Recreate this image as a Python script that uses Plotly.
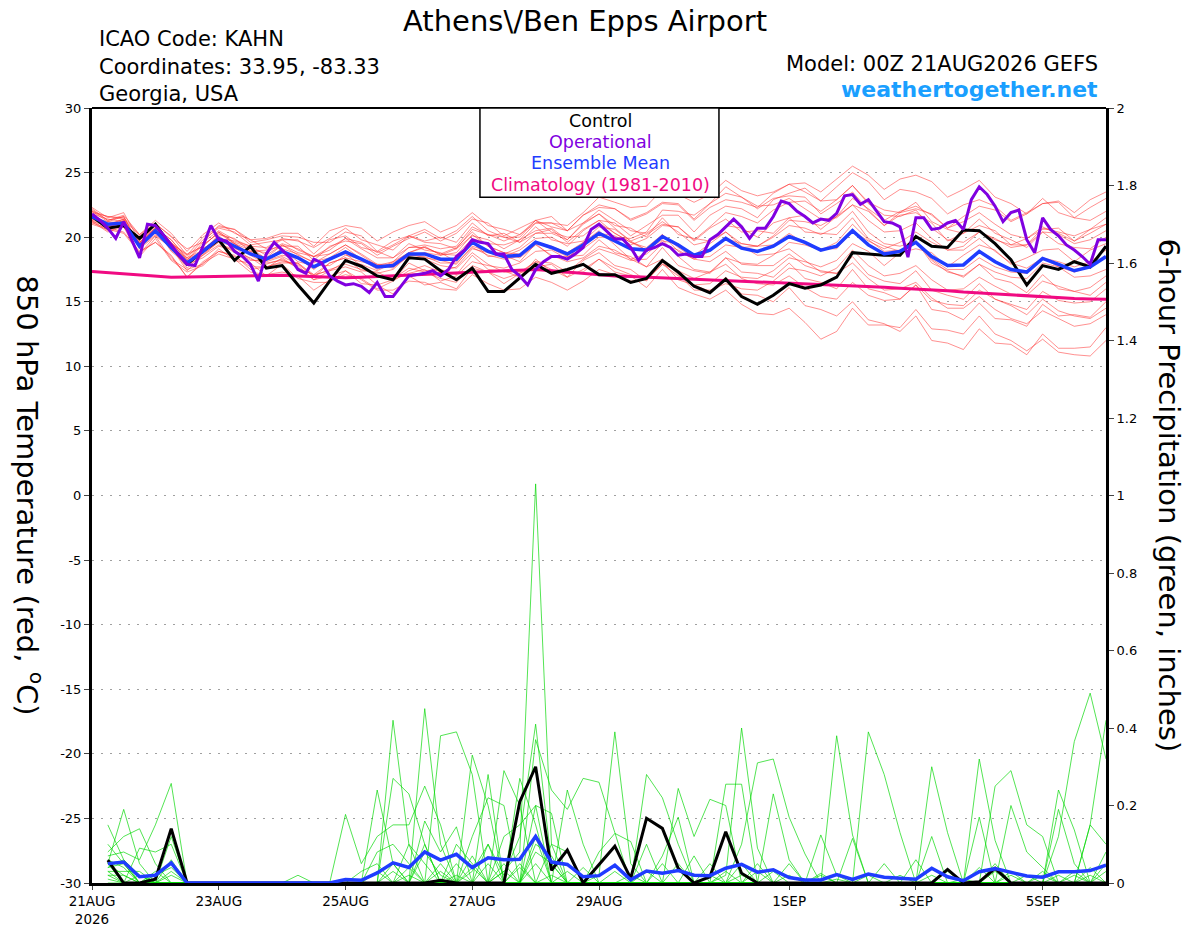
import pandas as pd
import plotly.graph_objects as go

# time axes: ensemble every 6h, operational every 3h, precip starts at +6h
times6 = pd.date_range("2026-08-21 00:00", periods=65, freq="6h")
times3 = pd.date_range("2026-08-21 00:00", periods=129, freq="3h")
ptimes = times6[1:]

tick_dates = ["2026-08-21", "2026-08-23", "2026-08-25", "2026-08-27",
              "2026-08-29", "2026-09-01", "2026-09-03", "2026-09-05"]
tick_labels = ["21AUG<br>2026", "23AUG", "25AUG", "27AUG", "29AUG", "1SEP", "3SEP", "5SEP"]
temp_ticks = [-30, -25, -20, -15, -10, -5, 0, 5, 10, 15, 20, 25, 30]
temp_tick_labels = ["-30", "-25", "-20", "-15", "-10", "-5", "0", "5", "10", "15", "20", "25", "30"]

# 850 hPa temperature (C)
control_t = [21.6, 20.7, 20.9, 19.9, 21.0, 19.3, 17.9, 18.9, 19.8, 18.2, 19.3, 17.6, 17.8, 16.3, 14.9, 16.6,
             18.2, 17.75, 17.0, 16.7, 18.4, 18.3, 17.4, 16.7, 17.6, 15.8, 15.8, 16.85, 17.9, 17.2, 17.5, 17.9,
             17.1, 17.1, 16.5, 16.8, 18.2, 17.3, 16.2, 15.7, 16.75, 15.4, 14.8, 15.5, 16.4, 16.05, 16.3, 16.9,
             18.8, 18.7, 18.6, 18.6, 20.05, 19.3, 19.2, 20.55, 20.5, 19.5, 18.25, 16.3, 17.8, 17.5, 18.1, 17.7,
             19.3]
mean_t = [21.6, 21.0, 21.1, 19.3, 20.5, 19.2, 18.0, 18.9, 19.9, 19.3, 18.7, 18.3, 18.9, 18.4, 17.7, 18.3,
          18.85, 18.3, 17.7, 17.8, 18.7, 18.7, 18.3, 18.3, 19.6, 18.9, 18.5, 18.6, 19.6, 19.2, 18.7, 19.4,
          20.3, 19.7, 19.1, 19.0, 20.05, 19.4, 18.6, 19.0, 19.9, 19.15, 18.9, 19.3, 20.05, 19.6, 19.0, 19.3,
          20.5, 19.4, 18.7, 18.9, 19.6, 18.5, 17.8, 17.85, 18.9, 18.1, 17.5, 17.3, 18.35, 17.9, 17.4, 17.7,
          18.5]
clim_t = [17.35, 17.25, 17.15, 17.05, 16.95, 16.9, 16.92, 16.95, 16.98, 17.0, 17.03, 17.05, 17.05, 17.0, 16.95, 16.9,
          16.85, 16.9, 16.95, 17.0, 17.05, 17.1, 17.15, 17.2, 17.25, 17.3, 17.38, 17.45, 17.5, 17.4, 17.3, 17.15,
          17.05, 17.0, 16.95, 16.9, 16.85, 16.8, 16.75, 16.7, 16.67, 16.6, 16.55, 16.5, 16.45, 16.4, 16.35, 16.3,
          16.25, 16.2, 16.12, 16.05, 16.0, 15.92, 15.85, 15.75, 15.68, 15.6, 15.5, 15.42, 15.35, 15.3, 15.25, 15.22,
          15.2]
oper_t = [21.8, 21.3, 20.7, 19.9, 21.2, 19.8, 18.4, 21.0, 20.9, 20.2, 19.4, 18.6, 17.9, 17.8, 19.3, 20.9,
          19.8, 19.7, 18.9, 18.5, 17.9, 16.6, 18.7, 19.6, 19.0, 18.4, 17.5, 17.2, 18.3, 18.0, 17.0, 16.6,
          16.3, 16.4, 16.2, 15.7, 16.5, 15.4, 15.4, 16.2, 17.0, 17.1, 17.2, 17.4, 17.0, 17.5, 18.5, 19.0,
          19.8, 19.6, 19.5, 18.7, 18.7, 17.5, 17.0, 16.3, 17.5, 18.1, 18.5, 18.5, 18.3, 18.7, 19.2, 20.6,
          21.0, 20.45, 19.85, 19.85, 19.2, 18.2, 19.0, 19.2, 19.5, 19.2, 18.6, 18.7, 18.5, 18.5, 19.8, 20.2,
          20.8, 21.4, 20.8, 19.9, 20.7, 20.7, 21.6, 22.8, 22.6, 22.0, 21.6, 21.1, 21.4, 21.3, 21.85, 23.2,
          23.3, 22.55, 22.9, 22.0, 21.2, 21.1, 20.8, 18.45, 21.5, 21.5, 20.6, 20.7, 21.1, 21.3, 20.6, 22.9,
          23.9, 23.3, 22.4, 21.2, 21.9, 22.1, 19.8, 18.8, 21.5, 20.6, 20.1, 19.4, 19.0, 18.5, 17.9, 19.8,
          19.8]

mem01 = [22.1, 21.3, 21.7, 20.2, 21.1, 20.0, 19.1, 19.6, 20.9, 20.6, 19.6, 19.8, 20.1, 20.0, 19.6, 19.6, 20.4,
         20.1, 18.9, 19.7, 20.1, 19.7, 20.0, 19.6, 21.1, 20.1, 20.3, 19.6, 20.3, 20.6, 19.6, 20.6, 21.3,
         21.1, 20.1, 20.9, 21.7, 21.7, 20.4, 21.7, 22.4, 22.2, 21.5, 22.9, 23.4, 23.8, 22.8, 23.9, 25.0,
         24.3, 22.9, 23.7, 23.5, 23.0, 21.8, 22.5, 22.9, 22.4, 21.3, 21.9, 22.6, 22.7, 21.5, 22.3, 23.0]
mem02 = [21.3, 20.5, 20.9, 18.7, 20.1, 18.3, 17.5, 17.9, 19.1, 18.2, 18.0, 17.0, 17.9, 16.8, 16.5, 16.5, 17.4,
         16.4, 16.3, 15.6, 17.0, 16.3, 16.5, 16.0, 17.6, 17.3, 16.4, 17.2, 17.7, 17.9, 16.9, 18.2, 18.8,
         17.8, 17.5, 16.6, 18.1, 16.7, 16.3, 15.8, 16.9, 15.6, 15.5, 15.0, 16.1, 14.7, 14.4, 13.9, 15.0,
         13.6, 13.3, 12.7, 13.9, 12.0, 11.8, 11.3, 12.9, 11.8, 11.7, 10.9, 12.5, 11.4, 11.4, 11.5, 13.0]
mem03 = [21.8, 21.4, 21.2, 19.8, 20.7, 19.8, 18.3, 18.9, 20.2, 19.9, 18.9, 19.0, 19.3, 19.3, 18.2, 19.3, 19.7,
         19.5, 18.6, 19.3, 19.9, 20.4, 19.7, 20.3, 21.4, 21.1, 20.1, 20.7, 21.3, 21.6, 20.5, 21.7, 22.3,
         22.2, 21.4, 21.9, 22.7, 22.6, 21.4, 22.6, 23.4, 23.1, 22.2, 23.0, 23.2, 23.1, 21.8, 22.6, 23.5,
         22.1, 20.9, 21.7, 21.9, 21.1, 19.7, 20.3, 20.9, 20.5, 19.4, 19.9, 20.6, 20.7, 19.7, 20.6, 21.0]
mem04 = [21.1, 20.7, 20.4, 18.9, 19.6, 18.6, 16.9, 18.1, 18.9, 18.6, 17.5, 17.7, 18.0, 18.0, 16.9, 18.0, 18.4,
         17.4, 17.3, 16.7, 18.0, 17.4, 17.5, 17.1, 18.6, 17.5, 17.4, 16.9, 18.3, 17.3, 17.2, 17.3, 18.3,
         17.3, 17.0, 16.1, 17.5, 16.1, 15.6, 15.2, 15.9, 14.8, 14.1, 14.0, 14.5, 13.4, 12.1, 12.7, 14.5,
         13.2, 13.2, 13.0, 14.4, 12.9, 12.8, 12.5, 13.9, 12.5, 12.0, 11.2, 12.1, 11.1, 10.9, 10.8, 12.0]
mem05 = [22.3, 21.5, 21.9, 19.7, 21.1, 19.5, 18.7, 19.3, 20.4, 19.6, 19.2, 18.3, 19.1, 18.1, 17.8, 17.8, 18.6,
         18.3, 17.5, 18.1, 18.8, 19.3, 18.6, 19.1, 20.1, 19.8, 19.1, 19.8, 20.5, 20.7, 19.8, 21.1, 21.8,
         20.9, 20.7, 20.0, 21.5, 20.2, 19.9, 19.7, 20.9, 20.7, 20.0, 21.1, 21.5, 21.7, 20.6, 21.6, 22.5,
         22.0, 20.9, 21.9, 22.2, 21.8, 20.7, 21.6, 22.4, 22.1, 21.2, 21.8, 22.6, 22.8, 21.9, 22.9, 23.5]
mem06 = [21.4, 21.1, 21.0, 19.6, 20.7, 19.8, 18.4, 19.8, 20.7, 20.4, 19.4, 19.6, 19.8, 19.8, 18.7, 19.8, 20.1,
         19.2, 18.9, 18.4, 19.5, 19.0, 18.8, 18.1, 19.6, 18.5, 18.6, 18.1, 19.5, 18.5, 18.5, 18.6, 19.8,
         18.8, 18.5, 17.7, 19.2, 17.8, 17.4, 17.2, 18.4, 17.3, 17.2, 16.9, 18.0, 16.8, 16.5, 16.0, 17.5,
         16.0, 15.7, 15.2, 16.3, 14.4, 14.2, 13.6, 14.9, 13.7, 13.6, 13.1, 14.8, 13.9, 14.0, 13.8, 15.0]
mem07 = [21.6, 20.7, 21.3, 19.1, 20.1, 19.2, 17.4, 18.6, 19.4, 19.1, 18.9, 18.4, 19.4, 18.8, 18.5, 19.0, 19.9,
         19.6, 18.8, 19.4, 20.1, 20.6, 19.9, 20.5, 21.6, 20.5, 20.0, 19.6, 20.8, 19.8, 19.5, 19.7, 20.8,
         20.6, 19.7, 20.2, 21.0, 20.8, 19.7, 20.7, 21.4, 20.4, 20.5, 20.3, 21.5, 20.4, 20.3, 20.2, 21.5,
         19.9, 19.3, 18.9, 19.7, 18.0, 17.4, 16.9, 17.9, 16.8, 16.5, 15.7, 17.1, 16.0, 15.8, 15.5, 16.5]
mem08 = [22.0, 21.2, 21.6, 19.4, 20.8, 19.2, 18.4, 19.0, 20.1, 19.2, 18.3, 18.0, 18.2, 17.8, 16.7, 17.4, 17.7,
         17.3, 16.3, 16.7, 17.2, 17.5, 16.6, 17.0, 18.1, 17.8, 17.6, 18.0, 18.9, 19.0, 18.3, 19.6, 20.3,
         20.1, 19.4, 19.9, 20.9, 20.8, 19.8, 20.8, 21.9, 21.6, 21.1, 22.1, 22.7, 22.8, 22.0, 22.9, 24.0,
         22.7, 22.1, 21.9, 22.7, 21.2, 20.6, 20.3, 21.4, 20.3, 19.8, 19.2, 20.4, 19.5, 19.2, 19.1, 20.0]
mem09 = [21.0, 20.6, 20.3, 18.8, 19.6, 18.5, 16.9, 18.0, 18.7, 18.3, 17.3, 17.1, 17.3, 17.0, 15.9, 16.7, 17.1,
         16.8, 16.0, 16.6, 17.4, 17.8, 17.3, 17.7, 19.1, 18.8, 18.5, 19.0, 19.9, 20.0, 19.3, 20.5, 21.3,
         20.3, 19.6, 19.0, 20.2, 18.9, 18.3, 18.1, 18.9, 17.9, 17.8, 17.8, 18.7, 17.8, 17.4, 17.2, 18.5,
         17.1, 16.6, 16.4, 17.4, 15.9, 15.5, 15.2, 16.4, 15.2, 14.7, 14.0, 15.2, 14.3, 13.9, 13.7, 14.5]
mem10 = [21.9, 21.6, 21.5, 20.2, 21.3, 20.3, 18.9, 20.2, 21.1, 20.3, 19.8, 19.1, 19.8, 19.0, 18.5, 18.7, 19.4,
         18.6, 17.8, 17.7, 18.5, 18.3, 17.8, 17.6, 18.8, 17.9, 17.3, 17.3, 18.1, 17.5, 16.9, 17.5, 18.3,
         17.6, 17.1, 16.7, 17.9, 17.0, 16.3, 16.4, 17.4, 16.9, 16.8, 17.4, 18.4, 18.1, 17.7, 18.2, 19.5,
         18.9, 17.8, 18.8, 19.1, 18.8, 17.7, 18.6, 19.4, 19.0, 17.9, 18.4, 19.0, 19.1, 18.1, 19.0, 19.5]
mem11 = [21.5, 21.2, 21.1, 19.6, 20.3, 19.3, 17.9, 19.1, 19.9, 19.7, 19.3, 19.2, 19.9, 19.7, 19.2, 19.9, 20.7,
         19.8, 19.4, 19.0, 20.1, 19.6, 19.5, 19.1, 20.6, 20.2, 19.7, 20.2, 21.1, 21.1, 20.5, 21.7, 22.5,
         22.2, 21.3, 21.8, 22.6, 22.5, 21.3, 22.3, 22.9, 22.7, 22.3, 23.4, 24.1, 24.2, 23.5, 24.5, 25.5,
         24.8, 23.7, 24.5, 24.8, 24.3, 23.1, 23.7, 24.4, 23.1, 22.6, 21.8, 23.0, 21.9, 21.5, 21.3, 22.0]
mem12 = [21.7, 20.8, 21.3, 19.2, 20.2, 19.2, 17.6, 18.7, 19.6, 18.8, 18.4, 17.6, 18.4, 17.6, 17.1, 17.4, 18.1,
         17.9, 17.4, 18.0, 18.8, 19.2, 18.7, 19.2, 20.4, 19.3, 18.8, 18.4, 19.4, 18.6, 18.1, 18.4, 19.3,
         19.0, 18.3, 18.7, 19.7, 19.5, 18.6, 19.5, 20.4, 19.5, 19.3, 19.4, 20.3, 19.5, 19.1, 19.1, 20.5,
         19.7, 19.1, 19.6, 20.4, 19.6, 19.0, 19.3, 20.4, 19.9, 19.2, 19.4, 20.4, 20.3, 19.7, 20.3, 21.0]
mem13 = [21.2, 20.9, 20.8, 19.5, 20.5, 19.6, 18.2, 19.6, 20.5, 19.8, 19.3, 18.6, 19.4, 18.6, 18.1, 18.4, 19.2,
         18.3, 17.9, 17.6, 18.7, 18.4, 18.2, 17.9, 19.3, 18.9, 18.7, 19.2, 20.3, 20.3, 19.8, 21.0, 21.8,
         20.7, 19.7, 19.0, 19.8, 18.5, 17.5, 17.3, 17.9, 16.8, 16.4, 16.3, 17.0, 16.1, 15.4, 15.2, 16.5,
         15.5, 15.1, 15.2, 16.3, 15.1, 14.8, 14.7, 15.9, 15.2, 14.8, 14.4, 15.8, 15.1, 14.9, 15.0, 16.0]
mem14 = [22.2, 21.3, 21.6, 19.3, 20.7, 18.9, 17.9, 18.4, 19.3, 19.0, 18.2, 18.2, 18.6, 18.4, 17.5, 18.4, 18.7,
         17.8, 17.0, 16.8, 17.6, 17.3, 16.8, 16.5, 17.8, 17.3, 16.8, 17.2, 18.1, 18.0, 17.3, 18.3, 19.1,
         18.7, 18.2, 18.3, 19.5, 19.0, 18.3, 18.9, 19.9, 19.5, 19.3, 20.0, 20.9, 20.7, 20.2, 20.8, 22.0,
         20.4, 19.5, 19.3, 19.7, 18.2, 17.3, 17.0, 17.9, 17.3, 16.9, 16.8, 18.0, 17.7, 17.3, 17.7, 18.5]
mem15 = [21.3, 21.0, 20.9, 19.6, 20.6, 19.6, 18.2, 19.4, 20.3, 19.5, 18.7, 18.1, 18.5, 17.9, 17.0, 17.5, 17.9,
         17.5, 17.2, 17.5, 18.6, 18.8, 18.6, 18.8, 20.2, 19.3, 18.8, 18.7, 19.6, 19.1, 18.5, 19.1, 20.0,
         20.0, 19.9, 20.4, 22.1, 22.0, 21.7, 22.6, 23.9, 23.1, 22.4, 22.5, 23.0, 22.2, 21.4, 21.5, 22.5,
         21.3, 20.4, 20.5, 21.1, 19.9, 19.0, 19.0, 19.9, 18.9, 18.0, 17.6, 18.4, 17.7, 16.9, 17.0, 17.5]
mem16 = [21.8, 21.0, 21.4, 19.2, 20.6, 19.0, 18.0, 18.6, 19.7, 19.2, 18.8, 18.3, 19.1, 18.7, 18.0, 18.7, 19.4,
         18.7, 17.9, 17.9, 18.6, 18.5, 18.0, 18.0, 19.2, 18.6, 18.3, 18.5, 19.6, 19.3, 18.8, 19.6, 20.5,
         19.4, 18.3, 17.7, 18.3, 17.1, 15.9, 15.9, 16.4, 16.0, 15.9, 16.6, 17.6, 17.4, 17.0, 17.6, 19.0,
         17.8, 17.0, 17.2, 17.8, 16.7, 15.9, 16.0, 16.9, 16.2, 15.6, 15.5, 16.6, 16.2, 15.8, 16.1, 17.0]
mem17 = [22.0, 21.6, 21.4, 20.1, 21.0, 20.1, 18.6, 20.0, 20.8, 20.6, 19.8, 19.9, 20.3, 20.3, 19.3, 20.5, 20.9,
         20.7, 19.7, 20.4, 20.9, 21.2, 20.4, 20.9, 21.9, 20.9, 20.6, 20.2, 21.3, 20.4, 20.0, 20.1, 21.1,
         20.3, 19.6, 19.2, 20.2, 19.2, 18.4, 18.5, 19.4, 19.2, 19.3, 20.1, 21.3, 21.2, 20.9, 21.6, 23.0,
         22.2, 21.3, 22.0, 22.4, 21.7, 20.7, 21.2, 21.9, 21.0, 20.2, 19.9, 20.8, 20.2, 19.5, 19.8, 20.5]
mem18 = [21.2, 20.4, 20.8, 18.5, 19.9, 18.2, 17.3, 17.8, 18.9, 18.5, 17.7, 17.7, 18.1, 18.0, 17.1, 18.0, 18.4,
         18.1, 17.8, 18.1, 19.2, 19.4, 19.1, 19.3, 20.8, 20.2, 20.0, 20.0, 21.3, 20.8, 20.5, 21.1, 22.1,
         21.3, 20.5, 20.3, 21.2, 20.4, 19.4, 19.7, 20.4, 19.3, 18.6, 18.7, 19.1, 18.2, 17.3, 17.2, 18.0,
         16.8, 15.9, 16.0, 16.5, 15.3, 14.5, 14.5, 15.4, 14.4, 13.7, 13.3, 14.3, 13.7, 13.1, 13.3, 14.0]
mem19 = [21.7, 20.9, 21.4, 19.5, 21.0, 19.5, 18.6, 19.3, 20.4, 19.5, 18.6, 17.9, 18.3, 17.6, 16.7, 17.0, 17.4,
         16.7, 15.9, 15.9, 16.6, 16.5, 16.0, 15.9, 17.1, 16.4, 15.9, 16.0, 16.9, 16.5, 15.9, 16.6, 17.5,
         17.1, 16.6, 16.7, 17.9, 17.4, 16.8, 17.3, 18.4, 18.0, 17.9, 18.6, 19.6, 19.4, 19.0, 19.6, 21.0,
         19.8, 18.9, 19.0, 19.6, 18.3, 17.5, 17.5, 18.4, 17.7, 17.3, 17.2, 18.4, 18.1, 17.7, 18.1, 19.0]
mem20 = [21.4, 21.0, 20.8, 19.4, 20.4, 19.4, 18.0, 19.1, 19.9, 19.5, 19.0, 18.8, 19.5, 19.1, 18.5, 19.2, 19.9,
         19.1, 18.4, 18.4, 19.2, 19.2, 18.7, 18.6, 19.9, 19.5, 19.4, 19.8, 21.1, 21.1, 20.9, 21.9, 23.1,
         22.7, 22.3, 22.4, 23.7, 23.3, 22.7, 23.3, 24.4, 23.6, 23.2, 23.5, 24.1, 23.5, 22.8, 22.9, 24.0,
         22.6, 21.7, 21.6, 22.1, 20.7, 19.8, 19.6, 20.4, 19.8, 19.4, 19.4, 20.7, 20.4, 20.1, 20.6, 21.5]

# 6-hour precipitation (inches), from +6h
control_p = [0.059, 0, 0, 0.01, 0.14, 0, 0, 0, 0, 0, 0, 0, 0, 0, 0, 0,
             0, 0, 0, 0, 0, 0.007, 0, 0, 0, 0, 0.21, 0.30, 0.033, 0.085, 0, 0.047,
             0.095, 0.012, 0.167, 0.141, 0.038, 0, 0.016, 0.132, 0.025, 0, 0, 0, 0, 0, 0, 0,
             0, 0, 0, 0, 0, 0.035, 0, 0.003, 0.038, 0, 0, 0, 0, 0, 0, 0]
mean_p = [0.05, 0.054, 0.016, 0.02, 0.052, 0, 0, 0, 0, 0, 0, 0, 0.002, 0, 0, 0.009,
          0.007, 0.026, 0.052, 0.04, 0.08, 0.059, 0.074, 0.04, 0.065, 0.06, 0.061, 0.12, 0.054, 0.048, 0.016, 0.019,
          0.046, 0.008, 0.031, 0.025, 0.032, 0.02, 0.019, 0.038, 0.048, 0.028, 0.034, 0.014, 0.008, 0.008, 0.022, 0.009,
          0.023, 0.015, 0.013, 0.01, 0.038, 0.016, 0.006, 0.029, 0.037, 0.027, 0.018, 0.015, 0.029, 0.029, 0.032, 0.046]

pcp01 = [0.15, 0.06, 0.02, 0, 0, 0, 0, 0, 0, 0, 0, 0, 0, 0, 0, 0,
         0, 0, 0.42, 0.1, 0, 0, 0.02, 0, 0, 0.03, 0.08, 1.03, 0.1, 0, 0, 0.02,
         0.39, 0.05, 0, 0, 0, 0, 0, 0.02, 0.4, 0.09, 0, 0, 0, 0, 0, 0,
         0.39, 0.28, 0.13, 0, 0, 0, 0, 0, 0, 0, 0, 0, 0.12, 0.365, 0.49, 0.32]
pcp02 = [0.05, 0.19, 0.05, 0, 0, 0, 0, 0, 0, 0, 0, 0, 0, 0, 0, 0,
         0, 0.24, 0.05, 0, 0.45, 0.1, 0, 0.03, 0.1, 0.02, 0.12, 0.41, 0.05, 0, 0, 0,
         0, 0, 0.28, 0.22, 0.1, 0, 0, 0, 0.1, 0.31, 0.32, 0.17, 0.075, 0, 0, 0,
         0, 0, 0, 0, 0.3, 0.13, 0, 0, 0.25, 0.29, 0.15, 0.12, 0, 0, 0.15, 0.42]
pcp03 = [0.08, 0.12, 0.14, 0.05, 0, 0, 0, 0, 0, 0, 0, 0, 0, 0, 0, 0,
         0, 0, 0.27, 0.23, 0.1, 0, 0, 0.33, 0.2, 0, 0, 0.37, 0.24, 0.19, 0.27, 0.26,
         0.13, 0, 0, 0, 0, 0, 0, 0.255, 0.255, 0, 0, 0, 0, 0, 0.38, 0.124,
         0, 0, 0, 0, 0, 0, 0, 0.32, 0.11, 0, 0, 0, 0, 0, 0, 0]
pcp04 = [0.07, 0.08, 0.06, 0.15, 0.257, 0, 0, 0, 0, 0, 0, 0, 0, 0, 0, 0,
         0, 0, 0, 0, 0, 0.38, 0.39, 0.28, 0, 0.29, 0.2, 0, 0, 0, 0, 0,
         0, 0, 0, 0, 0.244, 0.12, 0.216, 0.2, 0, 0, 0, 0, 0, 0, 0, 0,
         0, 0, 0, 0, 0, 0, 0, 0, 0, 0, 0, 0, 0.24, 0.137, 0, 0]
pcp05 = [0.06, 0.04, 0, 0, 0.12, 0, 0, 0, 0, 0, 0, 0, 0, 0, 0, 0.177,
         0.05, 0.12, 0.15, 0.15, 0.25, 0.15, 0, 0, 0.28, 0, 0, 0.2, 0.18, 0, 0, 0,
         0, 0, 0, 0, 0, 0, 0, 0, 0, 0, 0.23, 0.06, 0, 0.124, 0.02, 0,
         0, 0, 0, 0, 0.12, 0, 0, 0, 0, 0.2, 0.08, 0.04, 0, 0, 0, 0]
pcp06 = [0.05, 0, 0.09, 0.08, 0.1, 0, 0, 0, 0, 0, 0, 0, 0, 0, 0, 0,
         0, 0, 0, 0, 0.16, 0.08, 0.145, 0, 0, 0, 0.27, 0.15, 0, 0.24, 0.1, 0,
         0, 0, 0, 0.07, 0.17, 0, 0, 0, 0.05, 0, 0, 0, 0, 0, 0, 0,
         0, 0.05, 0, 0, 0, 0, 0, 0.17, 0, 0, 0, 0, 0.19, 0.05, 0, 0]
pcp07 = [0.04, 0.05, 0, 0, 0.06, 0, 0, 0, 0, 0, 0, 0, 0, 0, 0, 0,
         0, 0.08, 0.1, 0.05, 0, 0, 0, 0.12, 0.22, 0.2, 0, 0, 0.1, 0.08, 0, 0,
         0, 0, 0.1, 0, 0, 0, 0, 0, 0, 0.05, 0, 0, 0, 0, 0, 0,
         0, 0, 0, 0, 0, 0, 0, 0, 0, 0, 0, 0, 0, 0, 0.15, 0.1]
pcp08 = [0.03, 0.03, 0.03, 0, 0, 0, 0, 0, 0, 0, 0, 0, 0.02, 0, 0, 0,
         0, 0, 0, 0, 0.1, 0, 0, 0, 0, 0.12, 0.15, 0.2, 0, 0, 0, 0.08,
         0.128, 0.107, 0, 0, 0, 0, 0.05, 0, 0, 0, 0, 0.05, 0, 0, 0, 0,
         0, 0, 0, 0, 0, 0.03, 0, 0, 0, 0, 0, 0, 0, 0, 0, 0.08]
pcp09 = [0.1, 0.05, 0, 0.02, 0.04, 0, 0, 0, 0, 0, 0, 0, 0, 0, 0, 0,
         0, 0, 0, 0.1, 0.05, 0, 0.1, 0.05, 0, 0, 0, 0.12, 0, 0, 0, 0,
         0, 0, 0, 0, 0, 0.07, 0, 0, 0, 0, 0, 0, 0, 0.025, 0, 0,
         0, 0, 0, 0.06, 0, 0, 0, 0, 0.05, 0, 0, 0.03, 0, 0, 0, 0]
pcp10 = [0.03, 0, 0.02, 0, 0, 0, 0, 0, 0, 0, 0, 0, 0, 0, 0, 0,
         0.03, 0.05, 0, 0, 0, 0.05, 0, 0, 0.1, 0, 0, 0.08, 0.05, 0, 0, 0,
         0, 0, 0, 0.05, 0, 0, 0, 0, 0, 0, 0, 0.02, 0, 0, 0, 0,
         0, 0, 0, 0, 0, 0, 0, 0, 0, 0, 0.02, 0, 0, 0.03, 0, 0]
pcp11 = [0.02, 0.02, 0, 0, 0.03, 0, 0, 0, 0, 0, 0, 0, 0, 0, 0, 0,
         0, 0, 0.05, 0, 0, 0, 0.05, 0, 0, 0, 0.05, 0, 0, 0.03, 0, 0,
         0, 0.02, 0, 0, 0, 0, 0, 0.03, 0, 0, 0, 0, 0, 0, 0, 0.115,
         0, 0, 0, 0, 0, 0, 0.01, 0, 0, 0, 0, 0, 0, 0.02, 0, 0.03]
pcp12 = [0.01, 0, 0, 0.03, 0, 0, 0, 0, 0, 0, 0, 0, 0, 0, 0, 0,
         0, 0, 0, 0.02, 0, 0, 0, 0.04, 0, 0.03, 0, 0.1, 0.07, 0, 0, 0,
         0, 0, 0.03, 0, 0, 0, 0, 0, 0, 0, 0, 0, 0, 0.02, 0, 0,
         0, 0, 0, 0, 0.02, 0, 0, 0, 0, 0.03, 0, 0, 0, 0, 0.02, 0]
pcp13 = [0.05, 0.02, 0, 0, 0, 0, 0, 0, 0, 0, 0, 0, 0, 0, 0, 0,
         0, 0.03, 0, 0, 0.08, 0.02, 0, 0, 0.05, 0, 0, 0, 0, 0, 0.04, 0,
         0, 0, 0, 0, 0.05, 0, 0, 0, 0, 0, 0.03, 0, 0, 0, 0, 0,
         0, 0, 0.02, 0, 0, 0, 0, 0, 0.03, 0, 0, 0, 0, 0, 0, 0.05]
pcp14 = [0.02, 0, 0, 0, 0, 0, 0, 0, 0, 0, 0, 0, 0, 0, 0, 0,
         0, 0, 0.03, 0, 0, 0, 0, 0.07, 0, 0, 0, 0.05, 0, 0, 0, 0,
         0.03, 0, 0, 0, 0, 0, 0, 0, 0.02, 0, 0, 0, 0, 0, 0, 0,
         0.02, 0, 0, 0, 0, 0, 0, 0.04, 0, 0, 0, 0, 0.02, 0, 0, 0]
pcp15 = [0, 0, 0, 0, 0.02, 0, 0, 0, 0, 0, 0, 0, 0, 0, 0, 0,
         0, 0, 0, 0, 0, 0.03, 0, 0, 0, 0, 0.04, 0, 0, 0, 0, 0,
         0, 0, 0, 0, 0, 0, 0.02, 0, 0, 0, 0, 0, 0, 0, 0.01, 0,
         0, 0, 0, 0, 0, 0, 0, 0, 0, 0, 0, 0.02, 0, 0, 0, 0]
pcp16 = [0.04, 0.06, 0, 0, 0, 0, 0, 0, 0, 0, 0, 0, 0, 0, 0, 0,
         0, 0, 0, 0.04, 0, 0, 0, 0, 0, 0.05, 0, 0, 0.02, 0, 0, 0,
         0, 0, 0, 0, 0, 0, 0, 0, 0, 0.03, 0, 0, 0, 0, 0, 0,
         0, 0, 0, 0, 0, 0, 0, 0, 0, 0.02, 0, 0, 0, 0, 0.04, 0]

temp_members = [mem01, mem02, mem03, mem04, mem05, mem06, mem07, mem08, mem09, mem10,
                mem11, mem12, mem13, mem14, mem15, mem16, mem17, mem18, mem19, mem20]
pcp_members = [pcp01, pcp02, pcp03, pcp04, pcp05, pcp06, pcp07, pcp08,
               pcp09, pcp10, pcp11, pcp12, pcp13, pcp14, pcp15, pcp16]

FONT = "DejaVu Sans, Verdana, sans-serif"
fig = go.Figure()

for m in temp_members:
    fig.add_trace(go.Scatter(x=times6, y=m, mode="lines", yaxis="y",
                             line=dict(color="rgba(255,40,40,0.65)", width=0.8),
                             hoverinfo="skip", showlegend=False))
for p in pcp_members:
    fig.add_trace(go.Scatter(x=ptimes, y=p, mode="lines", yaxis="y2",
                             line=dict(color="rgba(0,215,0,0.85)", width=0.8),
                             hoverinfo="skip", showlegend=False))

# precip control and mean
fig.add_trace(go.Scatter(x=ptimes, y=control_p, mode="lines", yaxis="y2",
                         line=dict(color="black", width=3), showlegend=False))
fig.add_trace(go.Scatter(x=ptimes, y=mean_p, mode="lines", yaxis="y2",
                         line=dict(color="#1f3cff", width=3.5), showlegend=False))

# temperature main lines
fig.add_trace(go.Scatter(x=times6, y=clim_t, mode="lines", yaxis="y",
                         line=dict(color="#f00a82", width=3), showlegend=False))
fig.add_trace(go.Scatter(x=times6, y=control_t, mode="lines", yaxis="y",
                         line=dict(color="black", width=3), showlegend=False))
fig.add_trace(go.Scatter(x=times6, y=mean_t, mode="lines", yaxis="y",
                         line=dict(color="#1f3cff", width=3.5), showlegend=False))
fig.add_trace(go.Scatter(x=times3, y=oper_t, mode="lines", yaxis="y",
                         line=dict(color="#8000e0", width=3), showlegend=False))

# the page body adds an 8px offset, margins are set to compensate
fig.update_layout(
    width=1200, height=927,
    margin=dict(l=84, r=102, t=100, b=52),
    paper_bgcolor="white", plot_bgcolor="white",
    font=dict(family=FONT, color="black", size=13),
    showlegend=False,
    xaxis=dict(type="date", range=["2026-08-21", "2026-09-06"],
               tickvals=tick_dates, ticktext=tick_labels, automargin=False,
               tickfont=dict(size=13.5), ticks="outside", ticklen=4, tickwidth=1,
               showgrid=False, zeroline=False,
               showline=True, linewidth=3, linecolor="black"),
    yaxis=dict(range=[-30, 30], tickvals=temp_ticks, ticktext=temp_tick_labels,
               ticks="outside", ticklen=5,
               tickfont=dict(size=13), showgrid=True, gridcolor="#a0a0a0",
               griddash="2px,7px", gridwidth=1, zeroline=False, automargin=False,
               showline=True, linewidth=3, linecolor="black"),
    yaxis2=dict(range=[0, 2], dtick=0.2, tick0=0, overlaying="y", side="right",
                ticks="outside", ticklen=5, tickfont=dict(size=13), automargin=False,
                showgrid=False, zeroline=False,
                showline=True, linewidth=3, linecolor="black"),
)

# top frame line
fig.add_shape(type="line", xref="paper", yref="paper", x0=0, x1=1, y0=1, y1=1,
              line=dict(color="black", width=2))

# legend box
fig.add_shape(type="rect", xref="paper", yref="paper",
              x0=0.3826, x1=0.6183, y0=0.885, y1=1.0,
              line=dict(color="black", width=1.5), fillcolor="white", layer="above")
legend_items = [("Control", "black", 0.983), ("Operational", "#8000e0", 0.956),
                ("Ensemble Mean", "#1f3cff", 0.929), ("Climatology (1981-2010)", "#f00a82", 0.901)]
for txt, col, yy in legend_items:
    fig.add_annotation(text=txt, xref="paper", yref="paper", x=0.501, y=yy,
                       showarrow=False, font=dict(size=17.5, color=col, family=FONT),
                       xanchor="center", yanchor="middle")

# titles and header texts
fig.add_annotation(text="Athens\\/Ben Epps Airport", xref="paper", yref="paper",
                   x=0.486, y=1.112, showarrow=False, xanchor="center", yanchor="middle",
                   font=dict(size=29, family=FONT))
for txt, yy in [("ICAO Code: KAHN", 1.089), ("Coordinates: 33.95, -83.33", 1.053),
                ("Georgia, USA", 1.018)]:
    fig.add_annotation(text=txt, xref="paper", yref="paper", x=0.005, y=yy,
                       showarrow=False, xanchor="left", yanchor="middle",
                       font=dict(size=21, family=FONT))
fig.add_annotation(text="Model: 00Z 21AUG2026 GEFS", xref="paper", yref="paper",
                   x=0.994, y=1.057, showarrow=False, xanchor="right", yanchor="middle",
                   font=dict(size=21, family=FONT))
fig.add_annotation(text="<b>weathertogether.net</b>", xref="paper", yref="paper",
                   x=0.994, y=1.0245, showarrow=False, xanchor="right", yanchor="middle",
                   font=dict(size=22, family=FONT, color="#1a9fff"))

# axis titles (both read top-to-bottom)
fig.add_annotation(text="850 hPa Temperature (red, <sup>o</sup>C)", xref="paper", yref="paper",
                   x=-0.061, y=0.5, textangle=90, showarrow=False,
                   xanchor="center", yanchor="middle", font=dict(size=29, family=FONT))
fig.add_annotation(text="6-hour Precipitation (green, inches)", xref="paper", yref="paper",
                   x=1.063, y=0.5, textangle=90, showarrow=False,
                   xanchor="center", yanchor="middle", font=dict(size=29, family=FONT))

fig.write_html("out.html")
